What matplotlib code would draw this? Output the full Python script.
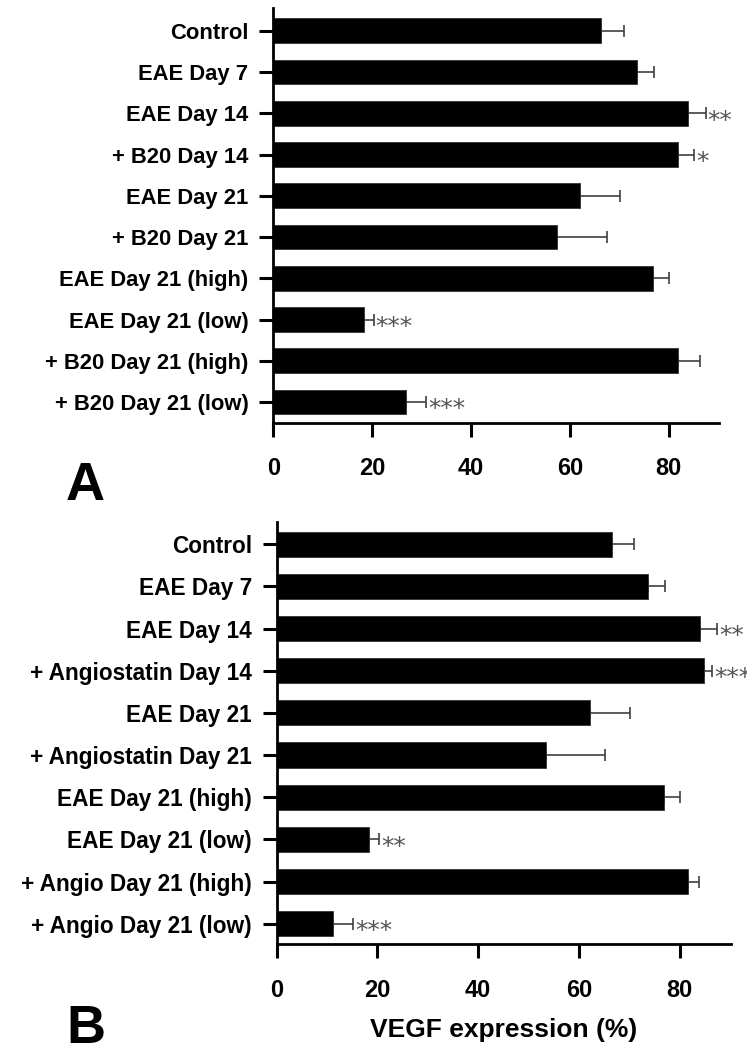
# VEGF expression bar charts, panels A and B
import matplotlib
matplotlib.use("Agg")
import matplotlib.pyplot as plt
import matplotlib.transforms as mtransforms
import numpy as np

# Panel A data
labelsA = ["Control", "EAE Day 7", "EAE Day 14", "+ B20 Day 14", "EAE Day 21",
           "+ B20 Day 21", "EAE Day 21 (high)", "EAE Day 21 (low)",
           "+ B20 Day 21 (high)", "+ B20 Day 21 (low)"]
valuesA = [66.4, 73.6, 83.9, 82.0, 62.1, 57.4, 76.8, 18.4, 81.9, 26.8]
errorsA = [4.5, 3.4, 3.6, 3.2, 8.0, 10.1, 3.2, 1.9, 4.4, 4.2]
starsA = ["", "", "**", "*", "", "", "", "***", "", "***"]

# Panel B data
labelsB = ["Control", "EAE Day 7", "EAE Day 14", "+ Angiostatin Day 14", "EAE Day 21",
           "+ Angiostatin Day 21", "EAE Day 21 (high)", "EAE Day 21 (low)",
           "+ Angio Day 21 (high)", "+ Angio Day 21 (low)"]
valuesB = [66.5, 73.7, 84.0, 84.8, 62.3, 53.4, 76.9, 18.4, 81.6, 11.2]
errorsB = [4.5, 3.4, 3.5, 1.7, 7.9, 11.7, 3.2, 1.9, 2.2, 4.0]
starsB = ["", "", "**", "***", "", "", "", "**", "", "***"]

xticks = [0, 20, 40, 60, 80]

W, H = 747, 1056
fig = plt.figure(figsize=(W / 100, H / 100), dpi=100)
plt.rcParams['font.family'] = ['Liberation Sans', 'DejaVu Sans']


def drawPanel(ax, labels, values, errors, stars, ylim, labelSize, xpad):
    y = np.arange(len(labels))
    ax.barh(y, values, height=0.6, color='black', edgecolor='#333333', linewidth=0.6, zorder=2)
    # only the positive side of the error bar is drawn
    ax.errorbar(values, y, xerr=[np.zeros(len(errors)), errors], fmt='none',
                ecolor='#404040', elinewidth=1.2, capsize=4.3, capthick=1.2, zorder=1)
    # significance stars just right of the error bar (last one runs off the page like the original)
    for i in range(len(labels)):
        if stars[i]:
            fs = 18
            tr = mtransforms.offset_copy(ax.transData, fig=fig, x=1.5, y=-0.57 * fs, units='points')
            ax.text(values[i] + errors[i], y[i], stars[i], transform=tr, fontsize=fs,
                    family='DejaVu Sans', color='#555555', ha='left', va='baseline',
                    clip_on=False)
    ax.set_yticks(y)
    ax.set_yticklabels(labels, fontsize=labelSize, fontweight='bold')
    ax.set_xticks(xticks)
    ax.set_xticklabels([str(t) for t in xticks], fontsize=17, fontweight='bold')
    ax.set_xlim(0, 90.2)
    ax.set_ylim(*ylim)
    for s in ['top', 'right']:
        ax.spines[s].set_visible(False)
    for s in ['left', 'bottom']:
        ax.spines[s].set_linewidth(2.0)
    ax.tick_params(axis='y', length=10, width=2.2, pad=7.8)
    ax.tick_params(axis='x', length=10, width=2.2, pad=xpad)
    ax.patch.set_alpha(0)


axA = fig.add_axes([273.3 / W, 1 - 422.7 / H, (719 - 273.3) / W, (422.7 - 8.3) / H])
drawPanel(axA, labelsA, valuesA, errorsA, starsA, (9.5, -0.546), 15.8, 14.8)

axB = fig.add_axes([276.7 / W, 1 - 943.5 / H, (731 - 276.7) / W, (943.5 - 521.7) / H])
drawPanel(axB, labelsB, valuesB, errorsB, starsB, (9.47, -0.533), 16.3, 15.7)

fig.text(503.8 / W, 1 - 1036.7 / H, "VEGF expression (%)", fontsize=19, fontweight='bold',
         ha='center', va='baseline')

# panel letters
fig.text(66 / W, 1 - 500 / H, "A", fontsize=39, fontweight='bold', ha='left', va='baseline')
fig.text(66 / W, 1 - 1043 / H, "B", fontsize=39, fontweight='bold', ha='left', va='baseline')

fig.savefig("out.png", dpi=100, facecolor='white')
